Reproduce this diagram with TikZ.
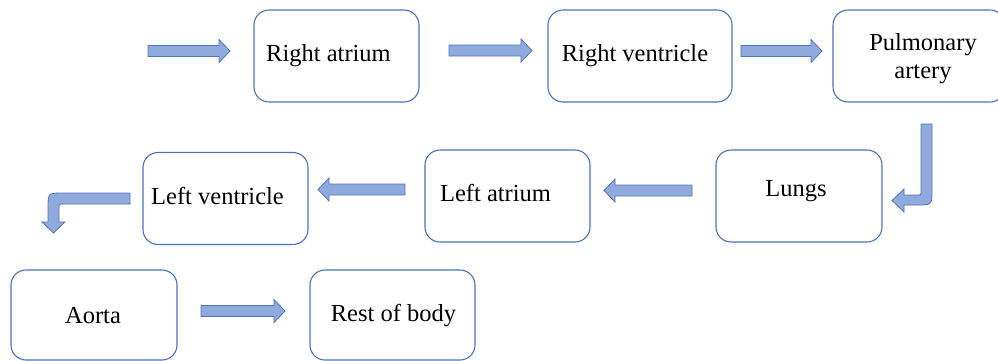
\documentclass[tikz,border=0pt]{standalone}
\usepackage{fontspec}
\setmainfont{Liberation Serif}
\usetikzlibrary{calc}
\definecolor{boxline}{RGB}{72,114,190}
\definecolor{arrfill}{RGB}{143,170,220}
\definecolor{arrline}{RGB}{82,117,186}
\newcommand\harrowR[3]{\draw[barrow] ({#1},{#3-5.5}) -- ({#2-11},{#3-5.5}) -- ({#2-11},{#3-11.5}) -- ({#2},{#3}) -- ({#2-11},{#3+11.5}) -- ({#2-11},{#3+5.5}) -- ({#1},{#3+5.5}) -- cycle;}
\newcommand\harrowL[3]{\draw[barrow] ({#1},{#3-5.5}) -- ({#2+11},{#3-5.5}) -- ({#2+11},{#3-11.5}) -- ({#2},{#3}) -- ({#2+11},{#3+11.5}) -- ({#2+11},{#3+5.5}) -- ({#1},{#3+5.5}) -- cycle;}
\begin{document}
\begin{tikzpicture}[x=1pt,y=-1pt,
  stagebox/.style={draw=boxline, line width=1.1pt, rounded corners=15pt, fill=white,
    minimum height=92pt, inner sep=0pt},
  stagetext/.style={inner sep=0pt, align=center,
    font=\fontsize{24.5}{28}\selectfont},
  barrow/.style={draw=arrline, fill=arrfill, line width=0.8pt, line join=miter}]
\useasboundingbox (0,0) rectangle (998,360);
\clip (0,0) rectangle (998,360);
% boxes
\node[stagebox, minimum width=165pt] (ra) at (336.5,56) {};
\node[stagebox, minimum width=184pt] (rv) at (640,56) {};
\node[stagebox, minimum width=172pt] (pa) at (919,56) {};
\node[stagebox, minimum width=166pt] (lu) at (799,196) {};
\node[stagebox, minimum width=165pt] (la) at (507.5,196) {};
\node[stagebox, minimum width=165pt] (lv) at (225.5,198.5) {};
\node[stagebox, minimum width=166pt, minimum height=90pt] (ao) at (94,315) {};
\node[stagebox, minimum width=165pt, minimum height=90pt] (rb) at (392.5,315) {};
% texts
\node[stagetext] (rat) at ($(ra)+(-8,0)$) {Right atrium};
\node[stagetext] (rvt) at ($(rv)+(-5,0)$) {Right ventricle};
\node[stagetext] (pat) at ($(pa)+(4,3)$) {Pulmonary\\artery};
\node[stagetext] (lut) at ($(lu)+(-3,-5)$) {Lungs};
\node[stagetext] (lat) at ($(la)+(-12,-3)$) {Left atrium};
\node[stagetext] (lvt) at ($(lv)+(-8,-3)$) {Left ventricle};
\node[stagetext] (aot) at ($(ao)+(-1,1)$) {Aorta};
\node[stagetext] (rbt) at ($(rb)+(1,1)$) {Rest of body};
% straight block arrows
\harrowR{148}{230}{51}
\harrowR{449}{532}{50.5}
\harrowR{741}{822}{51}
\harrowL{692}{604}{190.5}
\harrowL{405}{318}{189.5}
\harrowR{201}{285}{311}
% bent arrow: pulmonary artery -> lungs
\draw[barrow] (921,124) -- (932,124) -- (932,190) .. controls (932,205) .. (917,205)
  -- (904,205) -- (904,212) -- (892,200.5) -- (904,189) -- (904,195) -- (917,195)
  .. controls (921,195) .. (921,191) -- cycle;
% bent arrow: left ventricle -> aorta
\draw[barrow] (130,193) -- (130,204) -- (64,204) .. controls (59,204) .. (59,209)
  -- (59,222) -- (65,222) -- (53.5,233) -- (42,222) -- (48,222) -- (48,208)
  .. controls (48,193) .. (63,193) -- cycle;
\end{tikzpicture}
\end{document}
